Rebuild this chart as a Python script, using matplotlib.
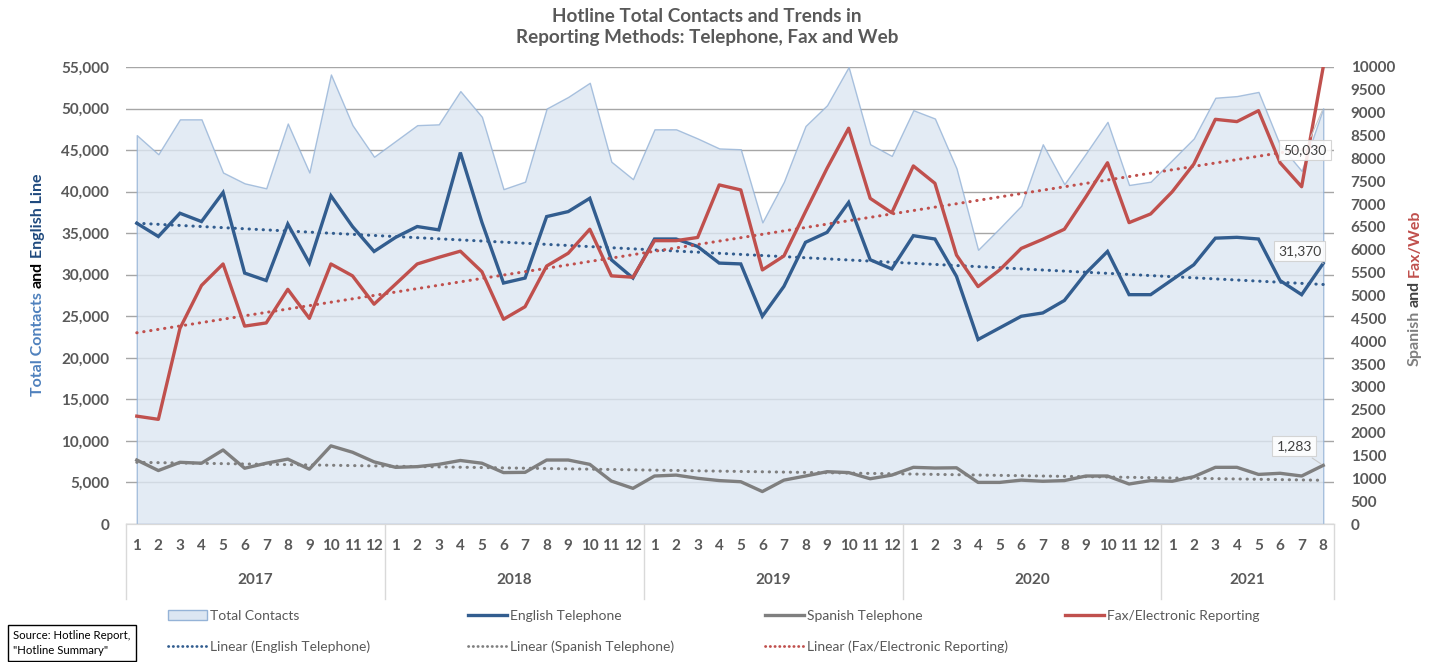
import numpy as np
import matplotlib
matplotlib.use("Agg")
import matplotlib.pyplot as plt
from matplotlib.patches import Patch
from matplotlib.lines import Line2D
import matplotlib.transforms as mtransforms
from matplotlib.ticker import FuncFormatter, MultipleLocator

plt.rcParams['font.family'] = ['Lato', 'DejaVu Sans']

# monthly data, Jan 2017 .. Aug 2021
years = ['2017', '2018', '2019', '2020', '2021']
months_per_year = [12, 12, 12, 12, 8]

total = [46800, 44500, 48700, 48700, 42300, 41000, 40400, 48200, 42300, 54100, 48000, 44200,
         46100, 48000, 48100, 52100, 49000, 40300, 41200, 50000, 51400, 53100, 43600, 41500,
         47500, 47500, 46400, 45200, 45100, 36300, 41200, 47900, 50400, 55000, 45700, 44300,
         49800, 48800, 42800, 33000, 35600, 38300, 45700, 40900, 44600, 48400, 40800, 41200,
         43800, 46400, 51300, 51500, 52000, 45600, 42500, 50030]

english = [36200, 34600, 37400, 36400, 39900, 30200, 29300, 36100, 31400, 39500, 35800, 32800,
           34500, 35800, 35400, 44700, 36300, 29000, 29600, 37000, 37600, 39200, 31800, 29600,
           34300, 34300, 33400, 31400, 31300, 25000, 28600, 33900, 35100, 38700, 31800, 30700,
           34700, 34300, 29800, 22200, 23600, 25000, 25400, 26900, 30200, 32800, 27600, 27600,
           29400, 31200, 34400, 34500, 34300, 29300, 27600, 31370]

spanish = [1400, 1170, 1350, 1330, 1620, 1220, 1330, 1420, 1200, 1710, 1570, 1360,
           1240, 1255, 1305, 1390, 1330, 1125, 1130, 1400, 1400, 1305, 940, 780,
           1050, 1070, 1000, 950, 925, 710, 960, 1050, 1145, 1125, 990, 1070,
           1240, 1225, 1230, 910, 910, 960, 935, 950, 1050, 1050, 875, 950,
           935, 1035, 1240, 1240, 1085, 1110, 1050, 1283]

fax = [2360, 2290, 4280, 5220, 5690, 4330, 4400, 5135, 4500, 5690, 5430, 4810,
       5250, 5690, 5835, 5970, 5520, 4480, 4755, 5645, 5925, 6450, 5430, 5400,
       6200, 6200, 6270, 7420, 7310, 5560, 5865, 6835, 7785, 8660, 7125, 6810,
       7835, 7455, 5885, 5195, 5560, 6030, 6230, 6450, 7160, 7905, 6595, 6785,
       7270, 7875, 8855, 8805, 9045, 7905, 7380, 10000]

month_labels = [str(m) for n in months_per_year for m in range(1, n + 1)]

C_FILL = '#dce6f2'
C_EDGE = '#95b3d7'
C_ENG = '#325d8f'
C_SPA = '#7f7f7f'
C_FAX = '#c0504d'
C_TXT = '#595959'
DOTS = (0, (0.1, 2.2))

fig = plt.figure(figsize=(14.32, 6.62), dpi=100)
ax = fig.add_axes([126 / 1432, 1 - 524 / 662, (1334 - 126) / 1432, (524 - 67) / 662])
ax2 = ax.twinx()

x = np.arange(len(total))

# left axis: total contacts + english
ax.fill_between(x, 0, total, facecolor=C_FILL, edgecolor=C_EDGE, lw=1, alpha=0.8, zorder=2)
ax.plot(x, english, color=C_ENG, lw=2.4, zorder=4, solid_joinstyle='miter')
k, b = np.polyfit(x, english, 1)
ax.plot(x, k * x + b, color=C_ENG, lw=2.2, ls=DOTS, dash_capstyle='round', zorder=3)

ax.set_xlim(-0.5, len(total) - 0.5)
ax.set_ylim(0, 55000)
ax.yaxis.set_major_locator(MultipleLocator(5000))
ax.yaxis.set_major_formatter(FuncFormatter(lambda v, p: f'{v:,.0f}'))
ax.grid(axis='y', color='#a6a6a6', lw=1)
ax.set_axisbelow(True)
ax.tick_params(axis='y', length=0, pad=12, labelsize=11, labelcolor=C_TXT)
for lab in ax.get_yticklabels():
    lab.set_fontweight('bold')
ax.set_xticks(x)
ax.set_xticklabels(month_labels, fontsize=11, fontweight='bold', color=C_TXT)
ax.tick_params(axis='x', length=0, pad=11)

# right axis: spanish + fax/web
ax2.plot(x, spanish, color=C_SPA, lw=2.4, zorder=4)
ax2.plot(x, fax, color=C_FAX, lw=2.4, zorder=4)
k, b = np.polyfit(x, spanish, 1)
ax2.plot(x, k * x + b, color=C_SPA, lw=2.2, ls=DOTS, dash_capstyle='round', zorder=3)
k, b = np.polyfit(x, fax, 1)
ax2.plot(x, k * x + b, color=C_FAX, lw=2.2, ls=DOTS, dash_capstyle='round', zorder=3)
ax2.set_ylim(0, 10000)
ax2.yaxis.set_major_locator(MultipleLocator(500))
ax2.tick_params(axis='y', length=0, pad=12, labelsize=11, labelcolor=C_TXT)
for lab in ax2.get_yticklabels():
    lab.set_fontweight('bold')

for a in (ax, ax2):
    for s in ('top', 'left', 'right'):
        a.spines[s].set_visible(False)
    a.spines['bottom'].set_color('#d9d9d9')

# year labels and separators under the category axis
trans = mtransforms.blended_transform_factory(ax.transData, ax.transAxes)
start = 0
for yr, n in zip(years, months_per_year):
    ax.text(start + (n - 1) / 2, -0.1225, yr, transform=trans, ha='center', va='center',
            fontsize=11, fontweight='bold', color=C_TXT)
    start += n
edges = np.concatenate([[0], np.cumsum(months_per_year)]) - 0.5
for e in edges:
    ax.plot([e, e], [0, -0.165], transform=trans, color='#d9d9d9', lw=1, clip_on=False)

# data labels on last points (drawn on the top axes so the boxes sit over the lines)
box = dict(boxstyle='square,pad=0.3', fc='white', ec='#d0d0d0', lw=0.8, alpha=0.88)
arrow = dict(arrowstyle='-', color='#c8c8c8', lw=0.8)
ax2.annotate(f'{total[-1]:,}', xy=(x[-1], total[-1]), xycoords=ax.transData, xytext=(-13, -30),
             textcoords='offset points', ha='center', va='center', fontsize=10, color='#404040',
             bbox=box, arrowprops=arrow, zorder=6)
ax2.annotate(f'{english[-1]:,}', xy=(x[-1], english[-1]), xycoords=ax.transData, xytext=(-17, 9),
             textcoords='offset points', ha='center', va='center', fontsize=10, color='#404040',
             bbox=box, arrowprops=arrow, zorder=6)
ax2.annotate(f'{spanish[-1]:,}', xy=(x[-1], spanish[-1]), xytext=(-21, 14), textcoords='offset points',
             ha='center', va='center', fontsize=10, color='#404040', bbox=box, arrowprops=arrow, zorder=6)

# title
fig.text(707 / 1432, 1 - 27 / 662,
         'Hotline Total Contacts and Trends in\nReporting Methods: Telephone, Fax and Web',
         ha='center', va='center', fontsize=13.6, fontweight='bold', color=C_TXT, linespacing=1.3)


def vlabel(xpix, ycpix, parts):
    renderer = fig.canvas.get_renderer()
    texts, hs = [], []
    for s, c in parts:
        t = fig.text(xpix / 1432, 0, s, rotation=90, ha='center', va='bottom',
                     fontsize=11.5, fontweight='bold', color=c)
        texts.append(t)
        hs.append(t.get_window_extent(renderer).height)
    gap = 4
    y0 = (662 - ycpix) - (sum(hs) + gap * (len(hs) - 1)) / 2
    for t, h in zip(texts, hs):
        t.set_position((xpix / 1432, y0 / 662))
        y0 += h + gap


vlabel(38, 285, [('Total Contacts', '#4f81bd'), ('and', '#000000'), ('English Line', '#1f497d')])
vlabel(1415, 288, [('Spanish', '#7f7f7f'), ('and', '#404040'), ('Fax/Web', C_FAX)])

# legend, four columns
def trend(c):
    return Line2D([], [], color=c, lw=2, ls=(0, (0.1, 1.6)), dash_capstyle='round')

cols = [
    ([Patch(facecolor=C_FILL, edgecolor=C_EDGE, lw=1), trend(C_ENG)],
     ['Total Contacts', 'Linear (English Telephone)']),
    ([Line2D([], [], color=C_ENG, lw=2.4), trend(C_SPA)],
     ['English Telephone', 'Linear (Spanish Telephone)']),
    ([Line2D([], [], color=C_SPA, lw=2.4), trend(C_FAX)],
     ['Spanish Telephone', 'Linear (Fax/Electronic Reporting)']),
    ([Line2D([], [], color=C_FAX, lw=2.4)], ['Fax/Electronic Reporting']),
]
for (h, l), xp in zip(cols, [168, 468, 765, 1065]):
    fig.legend(h, l, loc='upper left', bbox_to_anchor=(xp / 1432, 1 - 610 / 662), frameon=False,
               fontsize=10, labelcolor=C_TXT, handlelength=2.8, handletextpad=0.25,
               labelspacing=1.35, borderpad=0, borderaxespad=0)

# source box
fig.text(13 / 1432, 1 - 643 / 662, 'Source: Hotline Report,\n"Hotline Summary"', ha='left', va='center',
         fontsize=8.2, color='black', linespacing=1.45,
         bbox=dict(boxstyle='square,pad=0.45', fc='white', ec='black', lw=1))

fig.savefig('out.png', dpi=100)
